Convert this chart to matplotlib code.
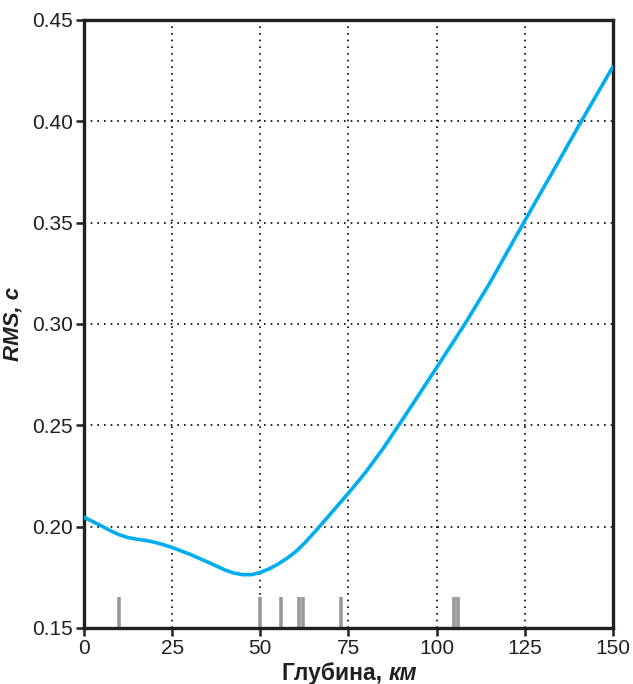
import numpy as np
import matplotlib.pyplot as plt

plt.rcParams['font.family'] = ['Liberation Sans', 'DejaVu Sans']

# кривая RMS по глубине
depth = [0, 2.5, 5, 7.5, 10, 12.5, 15, 17.5, 20, 22.5, 25, 30, 35, 40,
         42.5, 45, 47.5, 50, 52.5, 55, 57.5, 60, 62.5, 66, 70, 75, 77.5,
         80, 85, 90, 95, 100, 108, 115, 125, 135, 141, 150]
rms = [0.2046, 0.2025, 0.2003, 0.1980, 0.1960, 0.1946, 0.1938, 0.1932,
       0.1923, 0.1911, 0.1897, 0.1864, 0.1826, 0.1786, 0.1771, 0.1763,
       0.1763, 0.1774, 0.1792, 0.1815, 0.1843, 0.1876, 0.1918, 0.1985,
       0.2065, 0.2166, 0.2218, 0.2272, 0.2390, 0.2520, 0.2652, 0.2785,
       0.3000, 0.3200, 0.3510, 0.3815, 0.4000, 0.4270]

# глубины событий (метки внизу)
events = [10, 50, 56, 61, 62, 73, 105, 106]

xticks = [0, 25, 50, 75, 100, 125, 150]
yticks = [0.15, 0.20, 0.25, 0.30, 0.35, 0.40, 0.45]

fig = plt.figure(figsize=(6.33, 6.84), dpi=100)
ax = fig.add_axes([0.1327, 0.0819, 0.8357, 0.8889])

ax.plot(depth, rms, color='#00aeef', lw=2.6, solid_joinstyle='round',
        solid_capstyle='round', zorder=3)
ax.vlines(events, 0.15, 0.1655, colors='#999999', lw=2.6, zorder=2)

ax.set_xlim(0, 150)
ax.set_ylim(0.15, 0.45)
ax.set_xticks(xticks)
ax.set_yticks(yticks)
ax.set_yticklabels([f'{v:.2f}' for v in yticks])

# пунктирная сетка только внутри поля
for x in xticks[1:-1]:
    ax.axvline(x, color='black', ls=(0, (1, 3)), lw=1.2, zorder=1)
for y in yticks[1:-1]:
    ax.axhline(y, color='black', ls=(0, (1, 3)), lw=1.2, zorder=1)

for s in ax.spines.values():
    s.set_linewidth(2.4)
    s.set_color('#231f20')
ax.tick_params(direction='out', length=6, width=1.8, color='#231f20',
               labelcolor='#231f20', labelsize=15, pad=2)

ax.set_ylabel('RMS, с', fontsize=16, fontweight='bold', fontstyle='italic',
              labelpad=6, color='#231f20')
ax.text(0.575, -0.056, 'Глубина, ', transform=ax.transAxes, ha='right',
        va='top', fontsize=16.5, fontweight='bold', color='#231f20')
ax.text(0.575, -0.056, 'км', transform=ax.transAxes, ha='left',
        va='top', fontsize=16.5, fontweight='bold', fontstyle='italic',
        color='#231f20')

fig.savefig('out.png', dpi=100)
